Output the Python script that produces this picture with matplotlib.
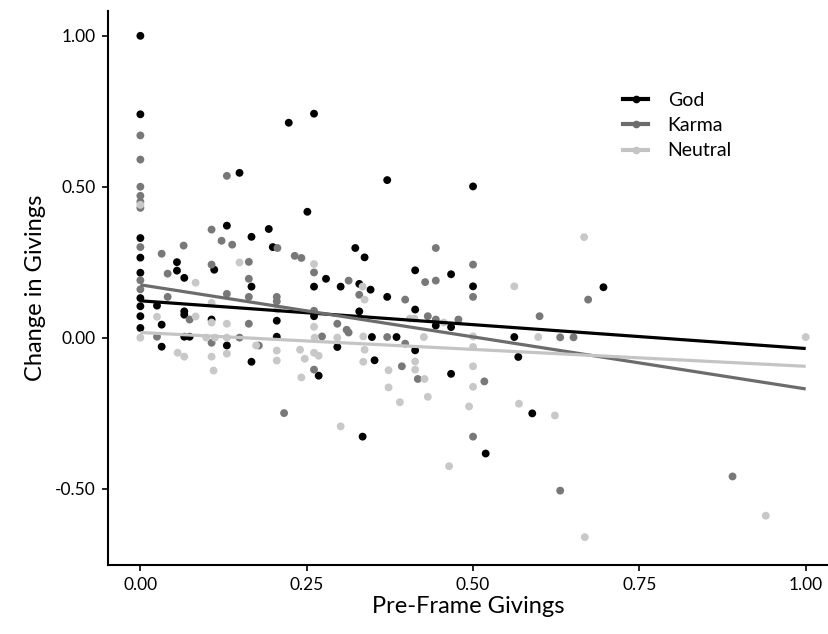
import numpy as np
import matplotlib.pyplot as plt
from matplotlib.lines import Line2D
from matplotlib.ticker import FuncFormatter

plt.rcParams["font.family"] = ["Lato", "DejaVu Sans"]

# God (black)
god_x = [0, 0, 0, 0, 0, 0, 0, 0, 0,
         0.223, 0.261, 0.251, 0.149, 0.130, 0.167, 0.193, 0.199, 0.055, 0.055,
         0.066, 0.111, 0.279, 0.301, 0.167, 0.261, 0.025, 0.066, 0.066, 0.032,
         0.107, 0.205, 0.261, 0.066, 0.074, 0.205, 0.032, 0.130, 0.167, 0.268,
         0.296, 0.371, 0.500, 0.323, 0.337, 0.413, 0.467, 0.500, 0.329, 0.346,
         0.371, 0.329, 0.413, 0.444, 0.467, 0.348, 0.385, 0.562, 0.413, 0.352,
         0.467, 0.568, 0.334, 0.519, 0.589, 0.696]
god_y = [1.00, 0.74, 0.33, 0.265, 0.215, 0.131, 0.104, 0.071, 0.032,
         0.712, 0.742, 0.417, 0.546, 0.371, 0.334, 0.360, 0.300, 0.250, 0.222,
         0.198, 0.225, 0.195, 0.169, 0.169, 0.169, 0.106, 0.087, 0.076, 0.043,
         0.060, 0.056, 0.071, 0.003, 0.003, 0.003, -0.030, -0.026, -0.080, -0.126,
         -0.031, 0.522, 0.501, 0.297, 0.266, 0.223, 0.210, 0.170, 0.178, 0.159,
         0.135, 0.087, 0.093, 0.040, 0.035, 0.002, 0.002, 0.002, -0.042, -0.075,
         -0.120, -0.064, -0.328, -0.384, -0.251, 0.167]

# Karma (mid grey)
karma_x = [0, 0, 0, 0, 0, 0, 0, 0, 0,
           0.130, 0.107, 0.122, 0.138, 0.206, 0.032, 0.065, 0.041, 0.107, 0.163,
           0.232, 0.242, 0.261, 0.313, 0.163, 0.130, 0.163, 0.205, 0.205, 0.041,
           0.074, 0.163, 0.296, 0.025, 0.149, 0.313, 0.107, 0.178, 0.261, 0.261,
           0.273, 0.310, 0.216, 0.444, 0.500, 0.428, 0.444, 0.500, 0.329, 0.398,
           0.432, 0.444, 0.478, 0.600, 0.371, 0.631, 0.651, 0.398, 0.393, 0.417,
           0.517, 0.500, 0.631, 0.673, 0.890]
karma_y = [0.67, 0.59, 0.50, 0.47, 0.45, 0.43, 0.30, 0.19, 0.16,
           0.536, 0.358, 0.321, 0.308, 0.297, 0.278, 0.305, 0.212, 0.242, 0.251,
           0.271, 0.264, 0.216, 0.189, 0.195, 0.145, 0.135, 0.135, 0.120, 0.135,
           0.060, 0.046, 0.046, 0.003, 0.000, 0.017, -0.017, -0.026, -0.106, 0.089,
           0.004, 0.026, -0.250, 0.297, 0.242, 0.184, 0.189, 0.135, 0.142, 0.126,
           0.071, 0.060, 0.060, 0.071, 0.002, 0.001, 0.001, -0.020, -0.095, -0.137,
           -0.145, -0.328, -0.507, 0.126, -0.460]

# Neutral (light grey)
neutral_x = [0, 0,
             0.083, 0.149, 0.261, 0.107, 0.025, 0.083, 0.107, 0.130, 0.206,
             0.261, 0.099, 0.112, 0.130, 0.262, 0.296, 0.056, 0.066, 0.107,
             0.130, 0.174, 0.205, 0.205, 0.240, 0.261, 0.268, 0.247, 0.110,
             0.242, 0.562, 0.334, 0.337, 0.405, 0.412, 0.456, 0.335, 0.426,
             0.500, 0.598, 0.337, 0.500, 0.335, 0.413, 0.413, 0.373, 0.500,
             0.427, 0.500, 0.373, 0.390, 0.432, 0.494, 0.464, 0.569, 0.623,
             0.301, 0.668, 0.667, 1.000, 0.940]
neutral_y = [0.44, 0.00,
             0.182, 0.249, 0.244, 0.115, 0.069, 0.070, 0.050, 0.046, 0.093,
             0.036, 0.000, 0.000, 0.000, 0.000, 0.000, -0.050, -0.063, -0.063,
             -0.053, -0.026, -0.043, -0.076, -0.040, -0.050, -0.060, -0.070, -0.109,
             -0.132, 0.170, 0.169, 0.126, 0.063, 0.063, 0.050, 0.004, 0.002,
             0.004, 0.002, -0.040, -0.031, -0.080, -0.079, -0.106, -0.108, -0.095,
             -0.137, -0.163, -0.165, -0.214, -0.196, -0.228, -0.426, -0.219, -0.258,
             -0.294, -0.661, 0.333, 0.002, -0.590]

# fitted lines (value at x=0 and x=1)
groups = ["God", "Karma", "Neutral"]
line_start = [0.122, 0.175, 0.017]
line_end = [-0.036, -0.170, -0.095]

point_colors = ["#000000", "#787878", "#c8c8c8"]
line_colors = ["#000000", "#6c6c6c", "#c4c4c4"]

fig = plt.figure(figsize=(8.29, 6.34), dpi=100)
ax = fig.add_axes([0.130, 0.109, 0.870, 0.874])

data = [(god_x, god_y), (karma_x, karma_y), (neutral_x, neutral_y)]
for (xs, ys), c in zip(data, point_colors):
    ax.scatter(xs, ys, s=32, color=c, edgecolors="none", zorder=2)

xl = np.array([0.0, 1.0])
for y0, y1, c in zip(line_start, line_end, line_colors):
    ax.plot(xl, [y0, y1], color=c, linewidth=2.3, zorder=3, solid_capstyle="butt")

ax.set_xlim(-0.049, 1.035)
ax.set_ylim(-0.753, 1.083)
ax.set_xticks([0, 0.25, 0.5, 0.75, 1.0])
ax.set_yticks([-0.5, 0, 0.5, 1.0])
ax.xaxis.set_major_formatter(FuncFormatter(lambda v, p: f"{v:.2f}"))
ax.yaxis.set_major_formatter(FuncFormatter(lambda v, p: f"{v:.2f}"))

for s in ["top", "right"]:
    ax.spines[s].set_visible(False)
for s in ["left", "bottom"]:
    ax.spines[s].set_linewidth(1.5)
ax.tick_params(length=4, width=1.2, labelsize=12.5, colors="black", pad=5)

ax.set_xlabel("Pre-Frame Givings", fontsize=17, labelpad=2)
ax.set_ylabel("Change in Givings", fontsize=17, labelpad=6)

handles = [Line2D([0], [0], color=c, lw=3, marker="o", markersize=4.5)
           for c in line_colors]
ax.legend(handles, groups, loc="upper left", bbox_to_anchor=(0.69, 0.885),
          frameon=False, fontsize=14, handlelength=1.3, labelspacing=0.42,
          handletextpad=1.0)

plt.savefig("out.png", dpi=100)
plt.close()
